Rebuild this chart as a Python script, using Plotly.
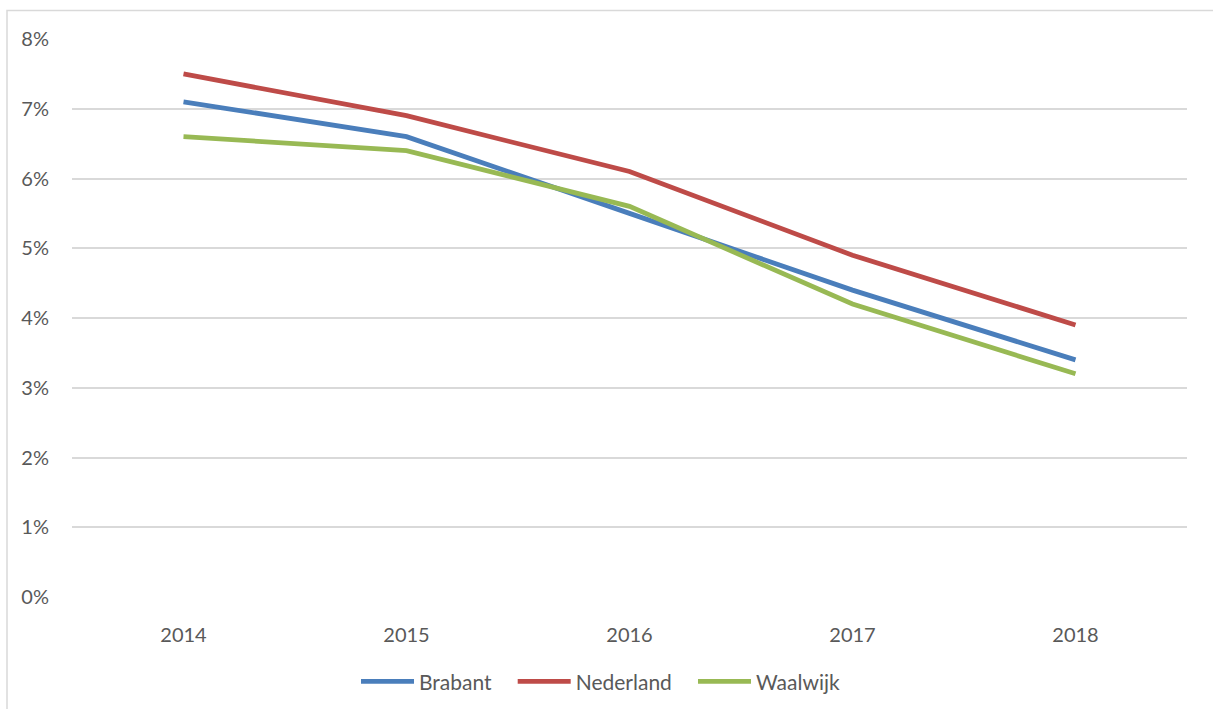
import plotly.graph_objects as go

years = ["2014", "2015", "2016", "2017", "2018"]
brabant = [7.1, 6.6, 5.5, 4.4, 3.4]
nederland = [7.5, 6.9, 6.1, 4.9, 3.9]
waalwijk = [6.6, 6.4, 5.6, 4.2, 3.2]

pad = "\u00a0\u00a0\u00a0"
series = [("Brabant", brabant, "#4A7EBB", pad),
          ("Nederland", nederland, "#BE4B48", pad),
          ("Waalwijk", waalwijk, "#98B954", "")]

fig = go.Figure()
for name, vals, col, p in series:
    fig.add_trace(go.Scatter(x=years, y=[v / 100 for v in vals], mode="lines", name=name + p,
                             line=dict(color=col, width=4.8)))

font = dict(family="Lato, Open Sans, sans-serif", size=20, color="#595959")

fig.update_layout(
    width=1213, height=709,
    margin=dict(l=72, r=26, t=38.5, b=112, autoexpand=False),
    paper_bgcolor="white", plot_bgcolor="white",
    font=font,
    showlegend=True,
    legend=dict(orientation="h", x=0.474, xanchor="center", y=-0.152, yanchor="middle",
                font=dict(family="Lato, Open Sans, sans-serif", size=21, color="#595959"),
                itemwidth=53, tracegroupgap=0),
    xaxis=dict(type="category", range=[-0.5, 4.5], showgrid=False, zeroline=False,
               showline=False, ticks="", ticklabelstandoff=24, tickfont=font),
    yaxis=dict(range=[0, 0.08], dtick=0.01, tickformat=".0%", showgrid=True,
               gridcolor="#D9D9D9", gridwidth=1.5, zeroline=False, showline=False,
               ticks="", ticklabelstandoff=22, tickfont=font),
    shapes=[dict(type="rect", xref="paper", yref="paper",
                 x0=(7 - 72) / 1115, x1=1.2, y0=-0.4, y1=(597 - 10) / 558.5,
                 line=dict(color="#D9D9D9", width=1.5), layer="below")],
)

fig.write_html("out.html", config={"displayModeBar": False},
               post_script="document.body.style.margin='0';")
